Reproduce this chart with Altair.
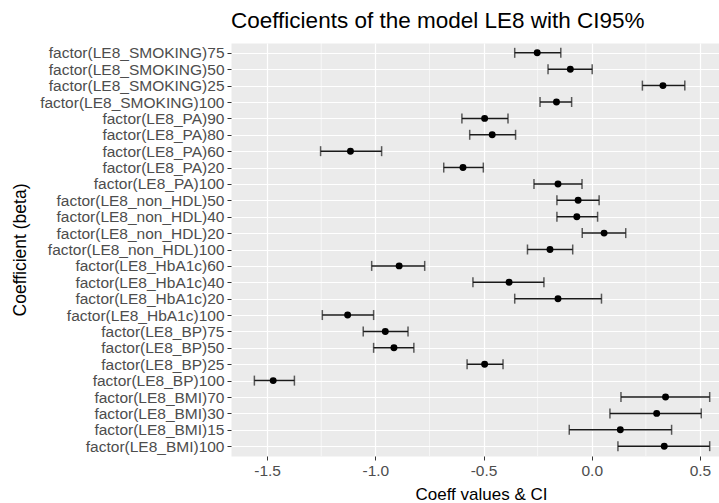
import altair as alt
import pandas as pd

terms = [
    "factor(LE8_SMOKING)75", "factor(LE8_SMOKING)50", "factor(LE8_SMOKING)25", "factor(LE8_SMOKING)100",
    "factor(LE8_PA)90", "factor(LE8_PA)80", "factor(LE8_PA)60", "factor(LE8_PA)20", "factor(LE8_PA)100",
    "factor(LE8_non_HDL)50", "factor(LE8_non_HDL)40", "factor(LE8_non_HDL)20", "factor(LE8_non_HDL)100",
    "factor(LE8_HbA1c)60", "factor(LE8_HbA1c)40", "factor(LE8_HbA1c)20", "factor(LE8_HbA1c)100",
    "factor(LE8_BP)75", "factor(LE8_BP)50", "factor(LE8_BP)25", "factor(LE8_BP)100",
    "factor(LE8_BMI)70", "factor(LE8_BMI)30", "factor(LE8_BMI)15", "factor(LE8_BMI)100",
]
estimate = [
    -0.252, -0.099, 0.329, -0.163,
    -0.495, -0.460, -1.115, -0.595, -0.156,
    -0.063, -0.069, 0.057, -0.193,
    -0.890, -0.382, -0.156, -1.128,
    -0.954, -0.914, -0.495, -1.472,
    0.341, 0.300, 0.132, 0.335,
]
ci_low = [
    -0.356, -0.202, 0.234, -0.239,
    -0.600, -0.564, -1.253, -0.684, -0.267,
    -0.161, -0.161, -0.044, -0.297,
    -1.017, -0.549, -0.356, -1.245,
    -1.056, -1.008, -0.576, -1.559,
    0.135, 0.084, -0.104, 0.121,
]
ci_high = [
    -0.143, 0.002, 0.430, -0.093,
    -0.387, -0.352, -0.971, -0.501, -0.045,
    0.034, 0.027, 0.157, -0.088,
    -0.772, -0.221, 0.045, -1.008,
    -0.849, -0.822, -0.410, -1.374,
    0.545, 0.506, 0.369, 0.545,
]
major_ticks = [-1.5, -1.0, -0.5, 0.0, 0.5]
minor_ticks = [-1.25, -0.75, -0.25, 0.25]

df = pd.DataFrame({"term": terms, "est": estimate, "lo": ci_low, "hi": ci_high})
minor_df = pd.DataFrame({"v": minor_ticks})

FONT = "Liberation Sans"
xscale = alt.Scale(domain=[-1.667, 0.588], nice=False, zero=False)
yscale = alt.Scale(type="point", padding=0.6)

x_axis = alt.Axis(
    values=major_ticks,
    labelExpr="replace(format(datum.value, '.1f'), '\u2212', '-')",
    title="Coeff values & CI",
    titleFont=FONT, titleFontSize=17, titleFontWeight="normal", titleColor="#000000",
    titleX=250, titleY=38, titleAlign="center", titleBaseline="middle",
    labelFont=FONT, labelFontSize=15.5, labelColor="#4D4D4D", labelPadding=3,
    tickSize=4, tickColor="#333333", tickWidth=1,
    domain=False, grid=True, gridColor="#FFFFFF", gridWidth=1.2,
)
y_axis = alt.Axis(
    title="Coefficient (beta)",
    titleFont=FONT, titleFontSize=17.5, titleFontWeight="normal", titleColor="#000000",
    titleX=-211, titleY=206.5, titleAlign="center", titleBaseline="middle", titleAngle=270,
    labelFont=FONT, labelFontSize=15.5, labelColor="#4D4D4D", labelPadding=3, labelLimit=400,
    tickSize=4, tickColor="#333333", tickWidth=1,
    domain=False, grid=True, gridColor="#FFFFFF", gridWidth=1.2,
)

minor = alt.Chart(minor_df).mark_rule(color="#FFFFFF", strokeWidth=0.6).encode(
    x=alt.X("v:Q", scale=xscale, axis=x_axis)
)

base = alt.Chart(df).encode(
    y=alt.Y("term:N", sort=terms, scale=yscale, axis=y_axis)
)

bars = base.mark_rule(color="#1A1A1A", strokeWidth=1.5).encode(
    x=alt.X("lo:Q", scale=xscale, axis=x_axis), x2="hi:Q"
)
lo_ticks = base.mark_tick(color="#1A1A1A", thickness=1.5, size=10).encode(
    x=alt.X("lo:Q", scale=xscale, axis=x_axis)
)
hi_ticks = base.mark_tick(color="#1A1A1A", thickness=1.5, size=10).encode(
    x=alt.X("hi:Q", scale=xscale, axis=x_axis)
)
points = base.mark_point(filled=True, color="#000000", opacity=1, size=48).encode(
    x=alt.X("est:Q", scale=xscale, axis=x_axis)
)

chart = alt.layer(minor, bars, lo_ticks, hi_ticks, points).properties(
    width=488,
    height=413,
    background="#FFFFFF",
    title=alt.TitleParams(
        "Coefficients of the model LE8 with CI95%",
        anchor="start", frame="group", font=FONT, fontSize=22.5,
        fontWeight="normal", color="#000000", offset=10,
    ),
    padding={"left": 231, "top": 43, "right": 0, "bottom": 47},
    autosize=alt.AutoSizeParams(type="none"),
).configure_view(
    fill="#EBEBEB", stroke="transparent"
)

chart.save("out.html", embed_options={"renderer": "svg", "actions": False})
